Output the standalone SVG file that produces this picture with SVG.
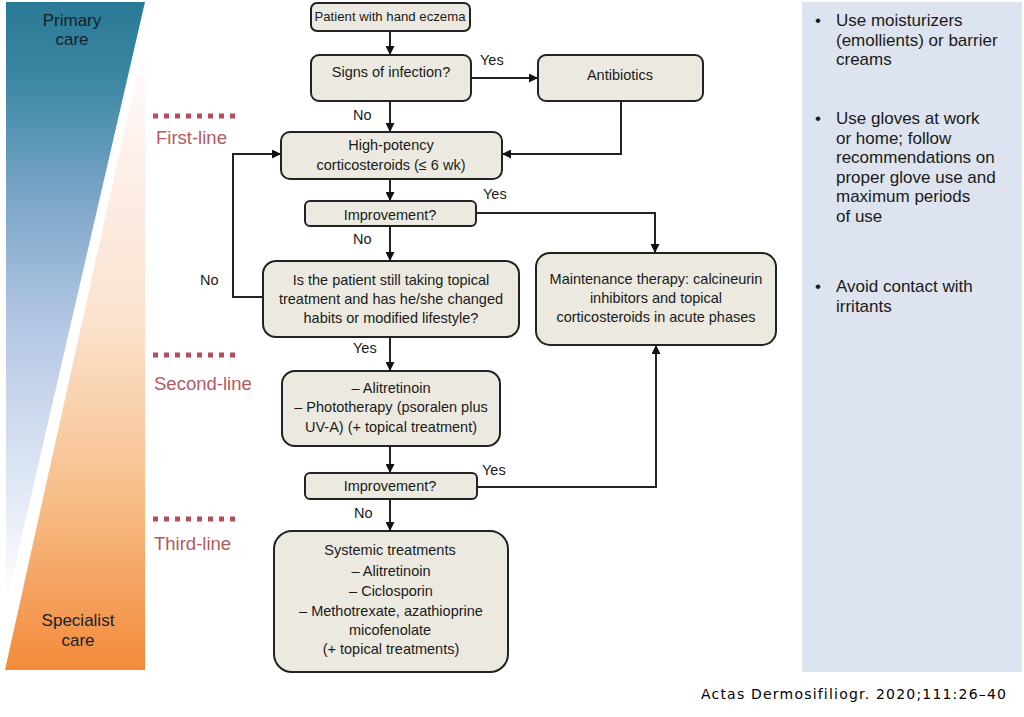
<svg xmlns="http://www.w3.org/2000/svg" width="1024" height="717" viewBox="0 0 1024 717">
<defs>
<linearGradient id="gBlue" gradientUnits="userSpaceOnUse" x1="0" y1="2" x2="0" y2="600">
<stop offset="0" stop-color="#2a7995"/>
<stop offset="0.12" stop-color="#3986a2"/>
<stop offset="0.35" stop-color="#82a9cc"/>
<stop offset="0.55" stop-color="#b6c8e5"/>
<stop offset="0.8" stop-color="#dfe7f4"/>
<stop offset="1" stop-color="#ffffff"/>
</linearGradient>
<linearGradient id="gOrange" gradientUnits="userSpaceOnUse" x1="0" y1="38" x2="0" y2="670">
<stop offset="0" stop-color="#ffffff"/>
<stop offset="0.18" stop-color="#fdf0ec"/>
<stop offset="0.45" stop-color="#fbe2cc"/>
<stop offset="0.72" stop-color="#f7bf8b"/>
<stop offset="1" stop-color="#f38a3a"/>
</linearGradient>
<marker id="arr" viewBox="0 0 10 10" refX="10" refY="5" markerWidth="9" markerHeight="9" markerUnits="userSpaceOnUse" orient="auto">
<path d="M0,0 L10,5 L0,10 z" fill="#111"/>
</marker>
</defs>
<style>
.box{fill:#eceae0;stroke:#222;stroke-width:2}
.t{font-family:"Liberation Sans",Arial,sans-serif;font-size:14.5px;fill:#1a1a1a;text-anchor:middle}
.lbl{font-family:"Liberation Sans",Arial,sans-serif;font-size:14.5px;fill:#1a1a1a}
.side{font-family:"Liberation Sans",Arial,sans-serif;font-size:17px;fill:#1a1a1a}
.care{font-family:"Liberation Sans",Arial,sans-serif;font-size:17px;fill:#15202b;text-anchor:middle}
.line{font-family:"Liberation Sans",Arial,sans-serif;font-size:18.5px;fill:#b35a5e}
.dots{stroke:#b34f58;stroke-width:5;stroke-dasharray:5 6}
.c{fill:none;stroke:#222;stroke-width:2}
</style>
<rect width="1024" height="717" fill="#ffffff"/>
<g id="scale">
<polygon points="6,2 145,2 6,605" fill="url(#gBlue)"/>
<polygon points="145,38 145,670 5,670" fill="url(#gOrange)"/>
<text class="care" x="72" y="26">Primary</text>
<text class="care" x="72" y="45">care</text>
<text class="care" x="78" y="626">Specialist</text>
<text class="care" x="78" y="646">care</text>
</g>
<g id="levels">
<line class="dots" x1="153" y1="116" x2="238" y2="116"/>
<text class="line" x="156" y="144">First-line</text>
<line class="dots" x1="153" y1="355" x2="238" y2="355"/>
<text class="line" x="154" y="390">Second-line</text>
<line class="dots" x1="153" y1="519" x2="238" y2="519"/>
<text class="line" x="154" y="550">Third-line</text>
</g>
<g id="advice">
<rect x="802" y="2" width="220" height="670" fill="#dde4ef"/>
<text class="side" x="815" y="26">•</text>
<text class="side" x="836" y="26">Use moisturizers</text>
<text class="side" x="836" y="45.5">(emollients) or barrier</text>
<text class="side" x="836" y="65">creams</text>
<text class="side" x="815" y="124">•</text>
<text class="side" x="836" y="124">Use gloves at work</text>
<text class="side" x="836" y="143.5">or home; follow</text>
<text class="side" x="836" y="163">recommendations on</text>
<text class="side" x="836" y="182.5">proper glove use and</text>
<text class="side" x="836" y="202">maximum periods</text>
<text class="side" x="836" y="221.5">of use</text>
<text class="side" x="815" y="292">•</text>
<text class="side" x="836" y="292">Avoid contact with</text>
<text class="side" x="836" y="311.5">irritants</text>
</g>
<g id="connectors">
<path class="c" d="M390,31 V55" marker-end="url(#arr)"/>
<path class="c" d="M471,78 H538" marker-end="url(#arr)"/>
<path class="c" d="M390,101 V132" marker-end="url(#arr)"/>
<path class="c" d="M621,101 V154 H502" marker-end="url(#arr)"/>
<path class="c" d="M390,179 V201" marker-end="url(#arr)"/>
<path class="c" d="M476,213 H655 V253" marker-end="url(#arr)"/>
<path class="c" d="M390,226 V261" marker-end="url(#arr)"/>
<path class="c" d="M263,297 H233 V154 H281" marker-end="url(#arr)"/>
<path class="c" d="M390,337 V371" marker-end="url(#arr)"/>
<path class="c" d="M390,446 V473" marker-end="url(#arr)"/>
<path class="c" d="M477,487 H656 V345" marker-end="url(#arr)"/>
<path class="c" d="M390,499 V531" marker-end="url(#arr)"/>
<text class="lbl" x="480" y="65">Yes</text>
<text class="lbl" x="353" y="120">No</text>
<text class="lbl" x="483" y="199">Yes</text>
<text class="lbl" x="353" y="244">No</text>
<text class="lbl" x="200" y="285">No</text>
<text class="lbl" x="353" y="353">Yes</text>
<text class="lbl" x="482" y="475">Yes</text>
<text class="lbl" x="354" y="518">No</text>
</g>
<g id="n-patient">
<rect class="box" x="311" y="3" width="159" height="28" rx="6"/>
<text class="t" x="390" y="21" style="font-size:13.2px">Patient with hand eczema</text>
</g>
<g id="n-infection">
<rect class="box" x="311" y="55" width="160" height="46" rx="8"/>
<text class="t" x="391" y="77">Signs of infection?</text>
</g>
<g id="n-antibiotics">
<rect class="box" x="538" y="55" width="165" height="46" rx="8"/>
<text class="t" x="620" y="80">Antibiotics</text>
</g>
<g id="n-highpotency">
<rect class="box" x="281" y="132" width="221" height="47" rx="9"/>
<text class="t" x="391" y="150">High-potency</text>
<text class="t" x="391" y="170">corticosteroids (≤ 6 wk)</text>
</g>
<g id="n-improvement1">
<rect class="box" x="305" y="201" width="171" height="25" rx="5"/>
<text class="t" x="390" y="220">Improvement?</text>
</g>
<g id="n-still">
<rect class="box" x="263" y="261" width="256" height="76" rx="13"/>
<text class="t" x="391" y="285">Is the patient still taking topical</text>
<text class="t" x="391" y="304">treatment and has he/she changed</text>
<text class="t" x="391" y="323">habits or modified lifestyle?</text>
</g>
<g id="n-maintenance">
<rect class="box" x="536" y="253" width="240" height="92" rx="14"/>
<text class="t" x="656" y="284">Maintenance therapy: calcineurin</text>
<text class="t" x="656" y="303">inhibitors and topical</text>
<text class="t" x="656" y="322">corticosteroids in acute phases</text>
</g>
<g id="n-secondline">
<rect class="box" x="282" y="371" width="218" height="75" rx="13"/>
<text class="t" x="391" y="393">– Alitretinoin</text>
<text class="t" x="391" y="412">– Phototherapy (psoralen plus</text>
<text class="t" x="391" y="432">UV-A) (+ topical treatment)</text>
</g>
<g id="n-improvement2">
<rect class="box" x="305" y="473" width="172" height="26" rx="5"/>
<text class="t" x="390" y="491">Improvement?</text>
</g>
<g id="n-systemic">
<rect class="box" x="274" y="531" width="234" height="141" rx="18"/>
<text class="t" x="390" y="555">Systemic treatments</text>
<text class="t" x="391" y="576">– Alitretinoin</text>
<text class="t" x="391" y="596">– Ciclosporin</text>
<text class="t" x="391" y="616">– Methotrexate, azathioprine</text>
<text class="t" x="390" y="635">micofenolate</text>
<text class="t" x="391" y="654">(+ topical treatments)</text>
</g>
<g id="credit">
<text x="701" y="699" style="font-family:'DejaVu Sans',sans-serif;font-size:14px;letter-spacing:1.2px;fill:#000">Actas Dermosifiliogr. 2020;111:26–40</text>
</g>
</svg>
